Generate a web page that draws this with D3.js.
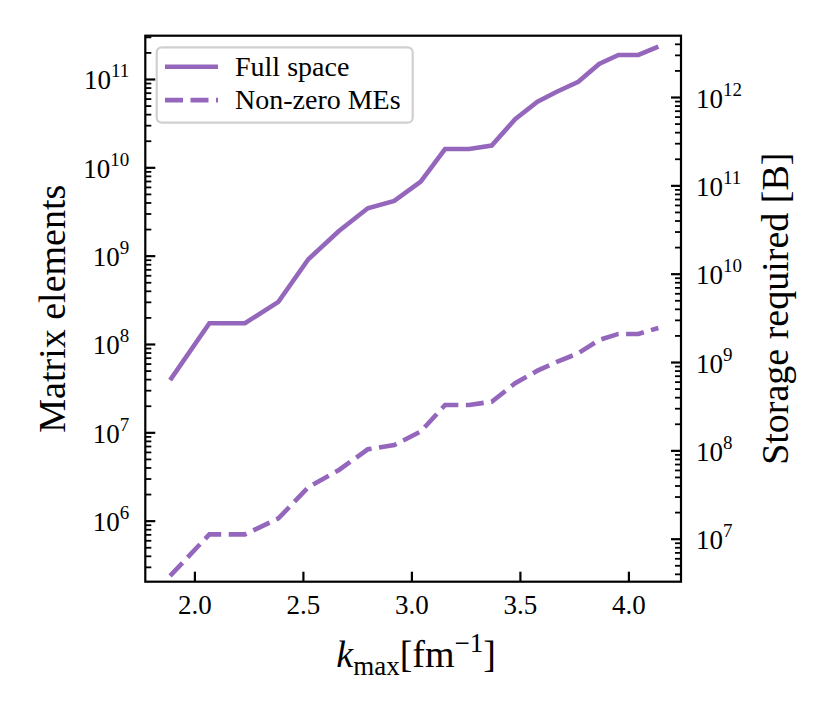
<!DOCTYPE html>
<html>
<head>
<meta charset="utf-8">
<script src="https://cdn.jsdelivr.net/npm/d3@7"></script>
<style>
  body { margin: 0; background: #fff; }
  svg text { font-family: "Liberation Serif", "DejaVu Serif", serif; fill: #000; }
</style>
</head>
<body>
<div id="chart"></div>
<script>
// k_max grid [fm^-1]
const kmax = [1.888, 2.069, 2.233, 2.387, 2.525, 2.666, 2.799, 2.921, 3.043, 3.155,
              3.266, 3.370, 3.478, 3.581, 3.670, 3.769, 3.865, 3.954, 4.046, 4.138];
// number of matrix elements, full space
const fullSpace = [3.9e7, 1.72e8, 1.72e8, 3.0e8, 9.1e8, 1.9e9, 3.44e9, 4.16e9, 6.88e9, 1.61e10,
                   1.61e10, 1.76e10, 3.5e10, 5.53e10, 7.18e10, 9.31e10, 1.48e11, 1.87e11, 1.87e11, 2.32e11];
// number of non-zero matrix elements
const nonZero = [2.37e5, 7.0e5, 7.0e5, 1.06e6, 2.39e6, 3.75e6, 6.43e6, 7.19e6, 1.02e7, 2.04e7,
                 2.04e7, 2.22e7, 3.59e7, 4.99e7, 6.26e7, 7.85e7, 1.11e8, 1.30e8, 1.30e8, 1.52e8];
const seriesNames = ["Full space", "Non-zero MEs"];
const xTicks = [2.0, 2.5, 3.0, 3.5, 4.0];
const leftExps = [6, 7, 8, 9, 10, 11];
const rightExps = [7, 8, 9, 10, 11, 12];
const bytesPerElement = 16;

const W = 831, H = 708;
const margin = {top: 35.7, right: 150, bottom: 126.3, left: 145.3};
const width = W - margin.left - margin.right;
const height = H - margin.top - margin.bottom;
const color = "#9467bd";
const lw = 4.6;

const svg = d3.select("#chart").append("svg")
    .attr("width", W)
    .attr("height", H)
    .append("g")
    .attr("transform", "translate(" + margin.left + "," + margin.top + ")");

const xScale = d3.scaleLinear().domain([1.7737, 4.2424]).range([0, width]);
const yLeft = d3.scaleLog().domain([Math.pow(10, 5.309), Math.pow(10, 11.49)]).range([height, 0]);
const yRight = d3.scaleLog()
    .domain(yLeft.domain().map(v => v * bytesPerElement))
    .range([height, 0]);

function minorTicks(scale) {
    const [lo, hi] = scale.domain();
    const out = [];
    for (let e = Math.floor(Math.log10(lo)); e <= Math.ceil(Math.log10(hi)); e++) {
        for (let m = 2; m <= 9; m++) {
            const v = m * Math.pow(10, e);
            if (v >= lo && v <= hi) out.push(v);
        }
    }
    return out;
}

// power-of-ten labels with a superscript exponent
function powLabels(g, exps) {
    g.selectAll(".tick text").each(function(d, i) {
        const t = d3.select(this);
        t.text(null).attr("dy", null).attr("y", 10);
        t.append("tspan").text("10");
        t.append("tspan").attr("dy", -12).style("font-size", "19px").text(exps[i]);
    });
}

// x axis
const xAxisG = svg.append("g")
    .attr("transform", "translate(0," + height + ")")
    .call(d3.axisBottom(xScale).tickValues(xTicks).tickSize(-10).tickPadding(13)
        .tickFormat(d3.format(".1f")));
xAxisG.select(".domain").remove();
xAxisG.selectAll(".tick line").attr("stroke-width", 2.2);
xAxisG.selectAll(".tick text").style("font-size", "27px");

// left y axis: minor then major
const yLeftMinor = svg.append("g")
    .call(d3.axisLeft(yLeft).tickValues(minorTicks(yLeft)).tickSize(-6).tickFormat(""));
yLeftMinor.select(".domain").remove();
yLeftMinor.selectAll(".tick line").attr("stroke-width", 1.8);

const yLeftMajor = svg.append("g")
    .call(d3.axisLeft(yLeft).tickValues(leftExps.map(e => Math.pow(10, e))).tickSize(-10).tickPadding(15));
yLeftMajor.select(".domain").remove();
yLeftMajor.selectAll(".tick line").attr("stroke-width", 2.2);
yLeftMajor.selectAll(".tick text").style("font-size", "27px");
powLabels(yLeftMajor, leftExps);
yLeftMajor.selectAll(".tick text").attr("y", 10).attr("x", -16);

// right y axis
const yRightMinor = svg.append("g")
    .attr("transform", "translate(" + width + ",0)")
    .call(d3.axisRight(yRight).tickValues(minorTicks(yRight)).tickSize(-6).tickFormat(""));
yRightMinor.select(".domain").remove();
yRightMinor.selectAll(".tick line").attr("stroke-width", 1.8);

const yRightMajor = svg.append("g")
    .attr("transform", "translate(" + width + ",0)")
    .call(d3.axisRight(yRight).tickValues(rightExps.map(e => Math.pow(10, e))).tickSize(-10).tickPadding(15));
yRightMajor.select(".domain").remove();
yRightMajor.selectAll(".tick line").attr("stroke-width", 2.2);
yRightMajor.selectAll(".tick text").style("font-size", "27px");
powLabels(yRightMajor, rightExps);
yRightMajor.selectAll(".tick text").attr("y", 10).attr("x", 15);

// data lines
const lineFull = d3.line().x((d, i) => xScale(kmax[i])).y(d => yLeft(d));
svg.append("path")
    .datum(fullSpace)
    .attr("fill", "none")
    .attr("stroke", color)
    .attr("stroke-width", lw)
    .attr("d", lineFull);
svg.append("path")
    .datum(nonZero)
    .attr("fill", "none")
    .attr("stroke", color)
    .attr("stroke-width", lw)
    .attr("stroke-dasharray", "18,7.5")
    .attr("d", lineFull);

// frame
svg.append("rect")
    .attr("width", width)
    .attr("height", height)
    .attr("fill", "none")
    .attr("stroke", "#000")
    .attr("stroke-width", 2.2);

// legend
const legend = svg.append("g").attr("transform", "translate(11.4,11.6)");
legend.append("rect")
    .attr("width", 256)
    .attr("height", 75.4)
    .attr("rx", 5)
    .attr("fill", "#fff")
    .attr("fill-opacity", 0.8)
    .attr("stroke", "#d0d0d0")
    .attr("stroke-width", 2.2);
seriesNames.forEach((name, i) => {
    const yy = 19.4 + i * 33.4;
    legend.append("line")
        .attr("x1", 8.3).attr("x2", 61.3)
        .attr("y1", yy).attr("y2", yy)
        .attr("stroke", color)
        .attr("stroke-width", lw)
        .attr("stroke-dasharray", i === 1 ? "18,7.5" : null);
    legend.append("text")
        .attr("x", 78.3)
        .attr("y", yy + 9)
        .style("font-size", "28px")
        .text(name);
});

// axis labels
const xLabel = svg.append("text")
    .attr("text-anchor", "middle")
    .attr("x", width / 2 + 3)
    .attr("y", height + 85)
    .style("font-size", "38px");
xLabel.append("tspan").style("font-style", "italic").text("k");
xLabel.append("tspan").attr("dy", 8).style("font-size", "27px").text("max");
xLabel.append("tspan").attr("dy", -8).text("[fm");
xLabel.append("tspan").attr("dy", -15).style("font-size", "27px").text("\u22121");
xLabel.append("tspan").attr("dy", 15).text("]");

svg.append("text")
    .attr("text-anchor", "middle")
    .attr("transform", "translate(-80," + (height / 2) + ") rotate(-90)")
    .style("font-size", "38px")
    .text("Matrix elements");

svg.append("text")
    .attr("text-anchor", "middle")
    .attr("transform", "translate(" + (width + 107) + "," + (height / 2) + ") rotate(-90)")
    .style("font-size", "38px")
    .text("Storage required [B]");
</script>
</body>
</html>
